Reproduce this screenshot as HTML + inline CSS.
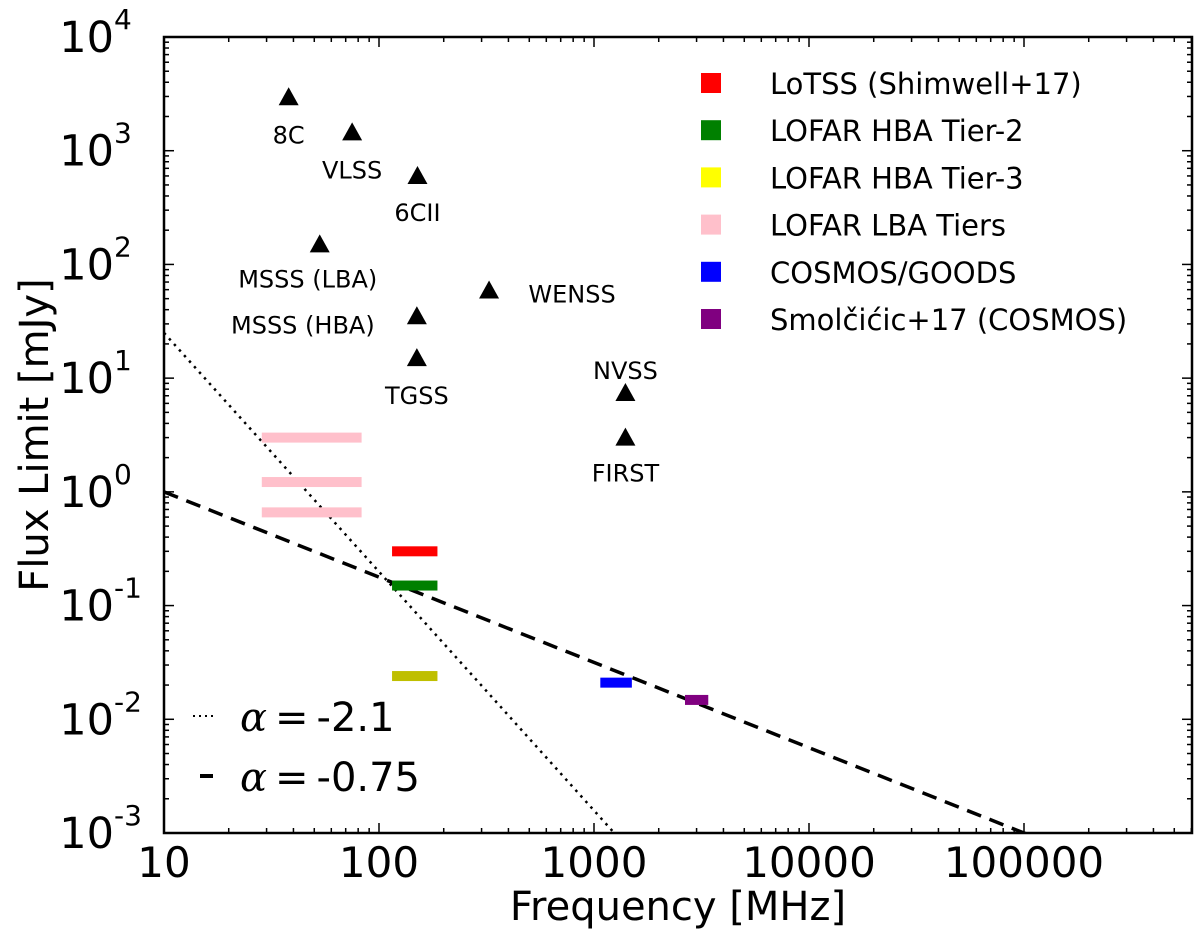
<!DOCTYPE html>
<html><head><meta charset="utf-8"><style>
html,body{margin:0;background:#fff;overflow:hidden;width:1200px;height:935px}
svg{display:block;font-family:"DejaVu Sans","Liberation Sans",sans-serif}
</style></head><body>
<svg id="c" width="1200" height="935"></svg>
<script>
const pointNames=["8C","VLSS","6CII","MSSS (LBA)","MSSS (HBA)","TGSS","WENSS","NVSS","FIRST"];
const pointFreq=[38,75,151,53,150,150,325,1400,1400];
const pointFlux=[2950,1450,600,150,35,15,59,7.4,3];
const labelDx=[0,0,0,-12,-114,0,83,0,0];
const labelDy=[46,46,45,43,17,46,12,-14,44];
const barNames=["lba-1","lba-2","lba-3","lotss","hba-tier2","hba-tier3","cosmos-goods","smolcic"];
const barF0=[28.5,28.5,28.5,115,115,115,1070,2650];
const barF1=[83,83,83,187,187,187,1500,3400];
const barFlux=[3.0,1.22,0.66,0.3,0.15,0.024,0.021,0.0148];
const barColor=["pink","pink","pink","red","green","#bfbf00","blue","purple"];
const legendLabels=["LoTSS (Shimwell+17)","LOFAR HBA Tier-2","LOFAR HBA Tier-3","LOFAR LBA Tiers","COSMOS/GOODS","Smolčićic+17 (COSMOS)"];
const legendColors=["red","green","yellow","pink","blue","purple"];
const xTicks=[10,100,1000,10000,100000];
const yExp=[4,3,2,1,0,-1,-2,-3];
const dottedAlpha=-2.1, dottedAmp=25;
const dashedAlpha=-0.75, dashedAmp=1.0;

const L=164,R=1192,T=37,B=833;
const xmin=1,xmax=1+(R-L)/215,ymin=-3,ymax=4;
const X=f=>L+(Math.log10(f)-xmin)/(xmax-xmin)*(R-L);
const Y=v=>B-(Math.log10(v)-ymin)/(ymax-ymin)*(B-T);
const svg=document.getElementById('c');
const NS="http://www.w3.org/2000/svg";
function mk(t,a,p){const e=document.createElementNS(NS,t);for(const k in a)e.setAttribute(k,a[k]);(p||svg).appendChild(e);return e;}

const clip=mk('clipPath',{id:'cp'});mk('rect',{x:L,y:T,width:R-L,height:B-T},clip);
function pl(amp,al,dash,name){
  const f0=10,f1=Math.pow(10,xmax);
  const l=mk('line',{x1:X(f0),y1:Y(amp),x2:X(f1),y2:Y(amp*Math.pow(f1/10,al)),stroke:'#000','stroke-width':dash==='d'?3.5:2.5,'stroke-dasharray':dash==='d'?'15,9':'2.5,5','clip-path':'url(#cp)'});
  
  
}
pl(dottedAmp,dottedAlpha,'o','dotted-line-alpha-2.1');
pl(dashedAmp,dashedAlpha,'d','dashed-line-alpha-0.75');

for(let i=0;i<barF0.length;i++){
  const r=mk('rect',{x:X(barF0[i]),y:Y(barFlux[i])-5,width:X(barF1[i])-X(barF0[i]),height:10,fill:barColor[i]});
  
  
}
for(let i=0;i<pointFreq.length;i++){
  const x=X(pointFreq[i]),y=Y(pointFlux[i]);
  const p=mk('polygon',{points:`${x},${y-10} ${x-10},${y+8} ${x+10},${y+8}`,fill:'#000'});
  
  
  const t=mk('text',{x:x+labelDx[i],y:y+labelDy[i],'text-anchor':'middle','font-size':24});
  t.textContent=pointNames[i];
  
  
}
const fr=mk('rect',{x:L,y:T,width:R-L,height:B-T,fill:'none',stroke:'#000','stroke-width':2.5});


for(let d=1;d<=5;d++)for(let m=1;m<10;m++){
  const f=m*Math.pow(10,d);const x=X(f);if(x>R)break;
  const len=m===1?10:5;
  mk('line',{x1:x,y1:B,x2:x,y2:B-len,stroke:'#000','stroke-width':1.5});
  mk('line',{x1:x,y1:T,x2:x,y2:T+len,stroke:'#000','stroke-width':1.5});
}
xTicks.forEach(f=>{const t=mk('text',{x:X(f),y:B+44,'text-anchor':'middle','font-size':42});t.textContent=String(f);
  
  });
for(let e=-3;e<4;e++)for(let m=1;m<10;m++){
  const y=Y(m*Math.pow(10,e));const len=m===1?10:5;
  mk('line',{x1:L,y1:y,x2:L+len,y2:y,stroke:'#000','stroke-width':1.5});
  mk('line',{x1:R,y1:y,x2:R-len,y2:y,stroke:'#000','stroke-width':1.5});
}
yExp.forEach(e=>{const y=Y(Math.pow(10,e));
  const t=mk('text',{x:114,y:y+15,'text-anchor':'end','font-size':43});t.textContent='10';
  
  
  const s=mk('text',{x:114,y:y-8,'font-size':28});s.textContent=String(e);
  
  });
const xt=mk('text',{x:678,y:920,'text-anchor':'middle','font-size':40});xt.textContent='Frequency [MHz]';

const yt=mk('text',{x:0,y:0,'text-anchor':'middle','font-size':40,transform:`translate(48,435) rotate(-90)`});yt.textContent='Flux Limit [mJy]';

legendLabels.forEach((lb,i)=>{const y=83+i*47.2;
  const r=mk('rect',{x:701,y:y-10,width:20,height:20,fill:legendColors[i]});
  
  const t=mk('text',{x:770,y:y+11,'font-size':29});t.textContent=lb;
  });
const lg=[['dotted','-2.1','2,4',2],['dashed','-0.75','12,0',4]];
lg.forEach((g,i)=>{const y=716+i*60;
  const l=mk('line',{x1:i?200:193,y1:y,x2:i?213:215,y2:y,stroke:'#000','stroke-width':g[3],'stroke-dasharray':g[2]});
  
  const t=mk('text',{x:240,y:y+15,'font-size':40});
  const a=mk('tspan',{'font-family':'"DejaVu Serif",serif','font-style':'italic'},t);a.textContent='α';
  const b=mk('tspan',{},t);b.textContent='\u2009=\u2009'+g[1];
  });
</script>
</body></html>
